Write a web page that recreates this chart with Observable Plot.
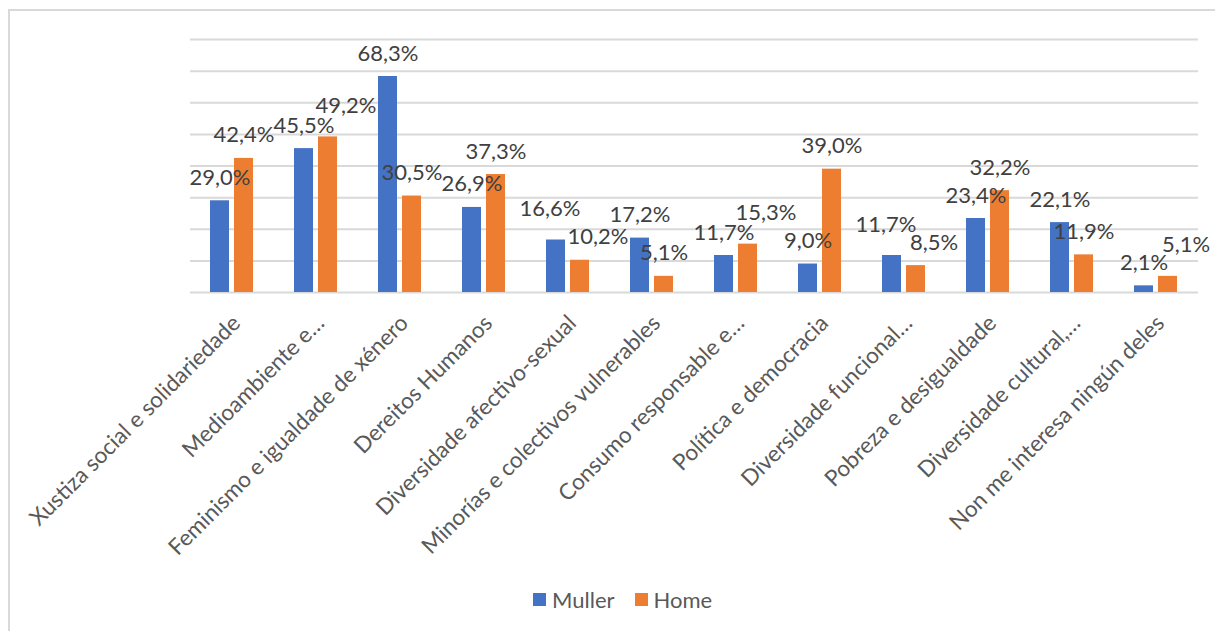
<!DOCTYPE html>
<html>
<head>
<meta charset="utf-8">
<script src="https://cdn.jsdelivr.net/npm/d3@7"></script>
<script src="https://cdn.jsdelivr.net/npm/@observablehq/plot@0.6"></script>
<style>
  html, body { margin: 0; padding: 0; background: #fff; overflow: hidden; }
  body { width: 1215px; height: 631px; position: relative; font-family: Lato, "Open Sans", sans-serif; }
  #frame { position: absolute; left: 8px; top: 9px; width: 1400px; height: 800px;
           border-left: 2px solid #d9d9d9; border-top: 2px solid #d9d9d9; box-sizing: border-box; }
  #chart { position: absolute; left: 0; top: 0; }
  #legend { position: absolute; left: 533px; top: 586px; display: flex; align-items: center;
            font-size: 22px; color: #595959; }
  .sw { display: inline-block; width: 13px; height: 13px; margin-right: 6px; }
  .item { display: flex; align-items: center; margin-right: 20px; }
</style>
</head>
<body>
<div id="frame"></div>
<div id="chart"></div>
<div id="legend"></div>
<script>
const categories = [
  "Xustiza social e solidariedade",
  "Medioambiente e…",
  "Feminismo e igualdade de xénero",
  "Dereitos Humanos",
  "Diversidade afectivo-sexual",
  "Minorías e colectivos vulnerables",
  "Consumo responsable e…",
  "Política e democracia",
  "Diversidade funcional…",
  "Pobreza e desigualdade",
  "Diversidade cultural,…",
  "Non me interesa ningún deles"
];
const seriesNames = ["Muller", "Home"];
const muller = [29.0, 45.5, 68.3, 26.9, 16.6, 17.2, 11.7, 9.0, 11.7, 23.4, 22.1, 2.1];
const home   = [42.4, 49.2, 30.5, 37.3, 10.2, 5.1, 15.3, 39.0, 8.5, 32.2, 11.9, 5.1];
const gridTicks = [0, 10, 20, 30, 40, 50, 60, 70, 80];
const colors = ["#4472C4", "#ED7D31"];

const rows = categories.flatMap((c, i) => [
  {cat: c, series: "Muller", value: muller[i], other: home[i]},
  {cat: c, series: "Home", value: home[i], other: muller[i]}
]);
const fmt = v => v.toFixed(1).replace(".", ",") + "%";
// when the two labels of a group would sit at nearly the same height, pull them apart
const close = d => Math.abs(d.value - d.other) < 7;
const higher = d => d.value > d.other;
const textOpts = {fx: "cat", x: "series", y: "value", text: d => fmt(d.value), fontSize: 22, fill: "#404040"};
const labelGroups = [
  {filter: d => !close(d), dx: 0, dy: -23},
  {filter: d => close(d) && d.series === "Muller" && higher(d), dx: -6, dy: -31},
  {filter: d => close(d) && d.series === "Muller" && !higher(d), dx: 0, dy: -23},
  {filter: d => close(d) && d.series === "Home" && higher(d), dx: 18, dy: -31},
  {filter: d => close(d) && d.series === "Home" && !higher(d), dx: 18, dy: -23}
];

const H = 575;
const chart = Plot.plot({
  width: 1215,
  height: H,
  marginLeft: 189,
  marginRight: 16,
  marginTop: 39,
  marginBottom: H - 292,
  style: {background: "none", fontFamily: "Lato, 'Open Sans', sans-serif"},
  fx: {domain: categories, padding: 0},
  x: {domain: seriesNames, paddingInner: 0.2, paddingOuter: 0.825, axis: null},
  y: {domain: [0, 80], axis: null},
  color: {domain: seriesNames, range: colors},
  marks: [
    Plot.ruleY(gridTicks, {stroke: "#d9d9d9", strokeWidth: 2}),
    Plot.barY(rows, {fx: "cat", x: "series", y: "value", fill: "series"}),
    ...labelGroups.map(g => Plot.text(rows.filter(g.filter), {...textOpts, dx: g.dx, dy: g.dy})),
    Plot.axisFx({anchor: "bottom", tickRotate: -45, tickSize: 0, tickPadding: 0, dx: 4, dy: 27, fontSize: 22.5,
      fill: "#595959", label: null})
  ]
});
document.getElementById("chart").appendChild(chart);

const legend = document.getElementById("legend");
seriesNames.forEach((s, i) => {
  const item = document.createElement("span");
  item.className = "item";
  const sw = document.createElement("span");
  sw.className = "sw";
  sw.style.background = colors[i];
  const t = document.createElement("span");
  t.textContent = s;
  item.appendChild(sw);
  item.appendChild(t);
  legend.appendChild(item);
});
</script>
</body>
</html>
